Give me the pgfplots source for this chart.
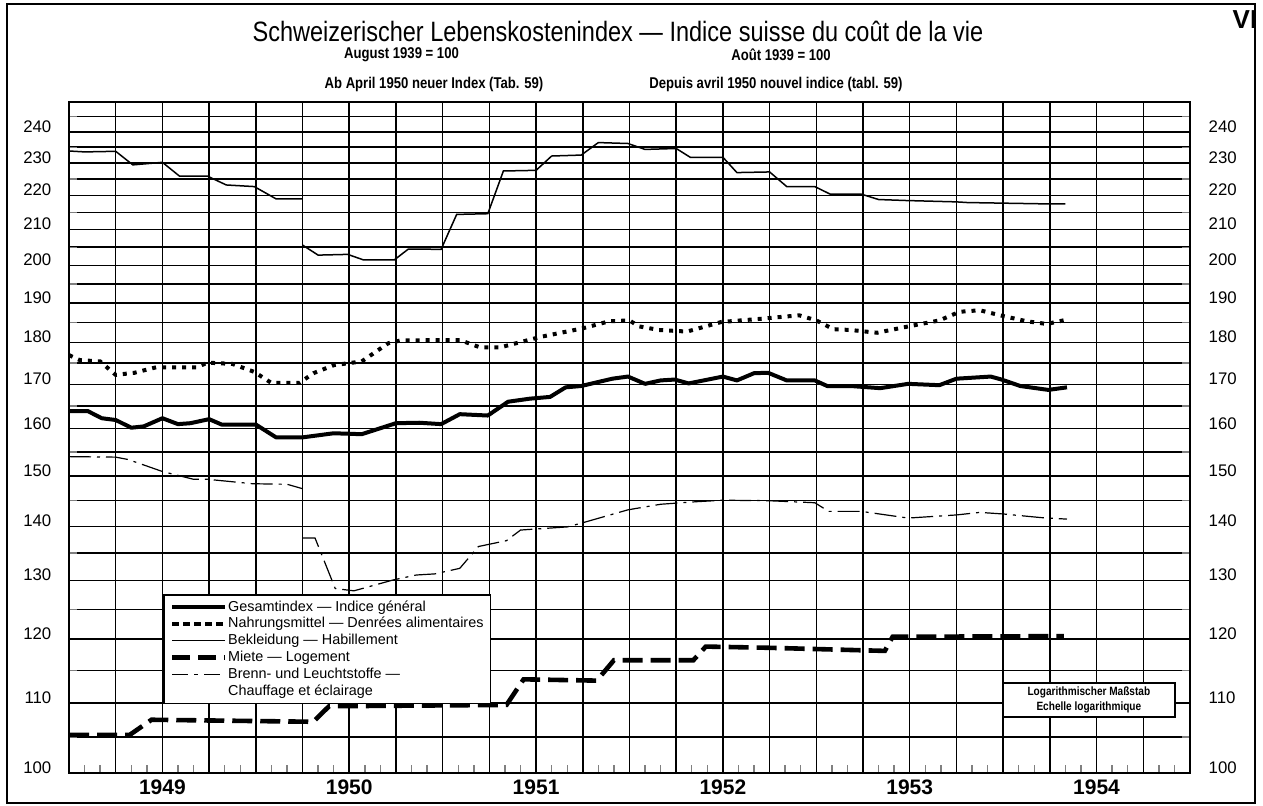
\documentclass[border=0pt]{standalone}
\usepackage{fontspec}
\setmainfont{Liberation Sans}
\newfontfamily\condfont[FakeStretch=0.84]{Liberation Sans}
\usepackage{pgfplots}
\pgfplotsset{compat=1.18}

\begin{document}
\begin{tikzpicture}
\path[use as bounding box] (0,0) rectangle (631.5pt,402.5pt);
\draw[line width=1pt] (3.5pt,1pt) rectangle (627.5pt,400.5pt);
\node[font=\condfont\fontsize{14}{16}\selectfont] at (309pt,387pt) {Schweizerischer Lebenskostenindex — Indice suisse du coût de la vie};
\node[font=\bfseries\fontsize{13}{15}\selectfont] at (622.5pt,392.5pt) {VI};
\node[font=\condfont\bfseries\fontsize{7.8}{9}\selectfont] at (200.75pt,375pt) {August 1939 = 100};
\node[font=\condfont\bfseries\fontsize{7.8}{9}\selectfont] at (390.5pt,375pt) {Août 1939 = 100};
\node[font=\condfont\bfseries\fontsize{7.8}{9}\selectfont] at (217pt,360.5pt) {Ab April 1950 neuer Index (Tab. 59)};
\node[font=\condfont\bfseries\fontsize{7.8}{9}\selectfont] at (388pt,360.5pt) {Depuis avril 1950 nouvel indice (tabl. 59)};

\begin{axis}[
  at={(34.5pt,16.15pt)}, anchor=south west,
  scale only axis, width=560.5pt, height=335.35pt,
  xmin=0, xmax=72, ymode=log, ymin=100, ymax=250,
  axis line style={line width=1.1pt},
  xtick={3,6,...,69},
  xticklabels={,1949,,,,1950,,,,1951,,,,1952,,,,1953,,,,1954,},
  minor xtick={1,2,4,5,7,8,10,11,13,14,16,17,19,20,22,23,25,26,28,29,31,32,34,35,37,38,40,41,43,44,46,47,49,50,52,53,55,56,58,59,61,62,64,65,67,68,70,71},
  xtick pos=bottom,
  extra x ticks={12,24,36,48,60},
  extra x tick labels={},
  extra x tick style={grid style={black, line width=1.3pt}},
  ytick={100,110,120,130,140,150,160,170,180,190,200,210,220,230,240},
  yticklabels={100,110,120,130,140,150,160,170,180,190,200,210,220,230,240},
  minor ytick={105,115,125,135,145,155,165,175,185,195,205,215,225,235,245},
  xmajorgrids, ymajorgrids, yminorgrids,
  major grid style={black, line width=0.75pt},
  minor grid style={black, line width=0.75pt},
  major tick length=0pt, minor tick length=4pt,
  minor tick style={line width=0.7pt},
  xticklabel style={font=\bfseries\fontsize{10.5}{12}\selectfont},
  yticklabel style={font=\fontsize{8.4}{10}\selectfont, xshift=-5.3pt, yshift=2.7pt},
  legend style={draw=black, line width=0.8pt, at={(0.0839,0.2664)}, anchor=north west,
    font=\fontsize{7.2}{8}\selectfont, inner xsep=3pt, inner ysep=2pt,
    nodes={inner xsep=0.5pt, inner ysep=0.6pt, text height=5.6pt, text depth=1.6pt}},
  legend cell align=left,
  legend image code/.code={\draw[#1] (0pt,0pt) -- (26.5pt,0pt);},
]
% Gesamtindex
\addplot[forget plot, line width=2pt, line join=round] coordinates {
(0,163.9) (1.2,163.9) (2.1,162.3) (3,161.9) (4,160.2) (4.8,160.5) (6,162.3) (7,161.0) (7.8,161.2) (9,162.1) (9.8,160.9) (12,160.9) (13.3,158.1) (15,158.1) (17,159.0) (18.8,158.8) (21,161.2) (22.5,161.3) (23.9,161.0) (25.1,163.2) (26.9,162.9) (28.2,166.0) (29.6,166.7) (30.9,167.1) (31.9,169.3) (32.9,169.6) (34.9,171.3) (35.9,171.8) (37.0,170.1) (38.0,170.9) (38.9,171.1) (39.8,170.2) (42.0,171.8) (42.9,170.9) (44.0,172.6) (44.9,172.7) (46.1,170.9) (47.9,170.9) (48.7,169.6) (50.2,169.6) (52.1,169.1) (53.9,170.1) (55.9,169.8) (57.0,171.3) (59.2,171.8) (59.9,171.1) (61.1,169.6) (62.9,168.7) (64.1,169.3)};
% Nahrungsmittel
\addplot[forget plot, line width=2pt, dash pattern=on 2pt off 3pt] coordinates {
(0,176.9) (0.7,175.7) (2.0,175.4) (3.0,172.2) (4.2,172.7) (5.6,174.0) (8.2,174.0) (8.9,175.1) (10.5,174.8) (11.9,172.9) (13.0,170.3) (14.8,170.3) (15.7,172.6) (17.0,174.5) (18.8,175.4) (20.5,179.8) (21.3,180.5) (25.1,180.6) (26.4,178.8) (27.7,178.8) (30.3,181.4) (33.0,183.5) (34.7,185.3) (36.0,185.5) (36.6,184.0) (37.9,183.1) (39.7,182.7) (41.9,185.1) (44.4,185.9) (46.9,186.8) (48.0,185.5) (49.1,183.3) (50.2,183.1) (51.9,182.4) (53.8,183.9) (55.9,185.5) (57.2,187.7) (58.5,188.1) (59.8,186.8) (61.5,185.3) (62.8,184.6) (64.2,185.8)};
% Bekleidung
\addplot[forget plot, line width=0.75pt] coordinates {
(0,233.8) (1,233.5) (3,233.7) (4.1,229.4) (6,230.2) (7.1,225.9) (8.9,225.9) (10.1,223.2) (11.9,222.7) (13.3,219.0) (15,219.0)};
\addplot[forget plot, line width=0.75pt] coordinates {
(15,205.6) (16.0,202.8) (17.9,203.0) (18.9,201.5) (20.9,201.5) (21.8,204.5) (23.9,204.4) (24.9,214.4) (26.9,214.6) (27.9,227.5) (30.0,227.7) (31.0,232.2) (32.9,232.5) (34.0,236.5) (35.9,236.2) (37.0,234.3) (39.0,234.6) (39.9,231.8) (42.0,231.8) (42.9,227.0) (45.0,227.2) (46.1,222.7) (47.9,222.7) (48.9,220.4) (50.9,220.4) (52.0,218.8) (53.8,218.5) (57.0,218.1) (57.7,217.9) (62.8,217.5) (64.0,217.5)};
% Miete
\addplot[forget plot, line width=2.3pt, dash pattern=on 10pt off 4pt] coordinates {
(0,105.3) (3.9,105.3) (5.3,107.5) (15.7,107.2) (16.7,109.5) (28.1,109.7) (29.2,113.6) (33.9,113.4) (35.0,116.6) (40.1,116.6) (40.9,118.8) (45,118.6) (52.4,118.1) (52.9,120.4) (63.9,120.5)};
% Brenn- und Leuchtstoffe
\addplot[forget plot, line width=0.6pt, dash pattern=on 11pt off 3pt on 1.5pt off 3pt] coordinates {
(0,154.0) (3.0,153.9) (3.8,153.4) (6.0,150.9) (8.0,149.3) (8.9,149.3) (11.8,148.4) (14.0,148.3) (15,147.4)};
\addplot[forget plot, line width=0.6pt, dash pattern=on 11pt off 3pt on 1.5pt off 3pt] coordinates {
(15,137.8) (15.8,137.8) (16.2,134.9) (17.1,128.6) (18.3,128.2) (20.8,130.1) (22.3,131.0) (23.5,131.2) (25.1,132.2) (26.3,136.2) (28.1,137.3) (29.0,139.3) (32.0,139.9) (33.0,140.7) (35.9,143.2) (38.0,144.3) (40.3,144.8) (42.0,145.1) (44.9,145.0) (47.9,144.6) (48.8,142.9) (50.9,142.9) (53.9,141.6) (57.0,142.2) (58.5,142.7) (60.0,142.4) (62.4,141.7) (64.1,141.4)};

\addlegendimage{line width=2pt}
\addlegendentry{Gesamtindex — Indice général}
\addlegendimage{line width=2pt, dash pattern=on 3.5pt off 2pt}
\addlegendentry{Nahrungsmittel — Denrées alimentaires}
\addlegendimage{line width=0.7pt}
\addlegendentry{Bekleidung — Habillement}
\addlegendimage{line width=2.2pt, dash pattern=on 9pt off 4pt}
\addlegendentry{Miete — Logement}
\addlegendimage{line width=0.6pt, dash pattern=on 8pt off 3pt on 2pt off 3pt}
\addlegendentry{Brenn- und Leuchtstoffe —}
\addlegendimage{empty legend}
\addlegendentry{Chauffage et éclairage}

\node[draw, line width=0.8pt, fill=white, minimum width=86pt, minimum height=17pt, align=center, inner sep=1pt,
  font=\condfont\bfseries\fontsize{6}{7.5}\selectfont] at (rel axis cs:0.9098,0.1084) {Logarithmischer Maßstab\\Echelle logarithmique};
\end{axis}

\begin{axis}[
  at={(34.5pt,16.15pt)}, anchor=south west,
  scale only axis, width=560.5pt, height=335.35pt,
  xmin=0, xmax=72, ymode=log, ymin=100, ymax=250,
  axis line style={draw=none},
  xtick=\empty,
  ytick={100,110,120,130,140,150,160,170,180,190,200,210,220,230,240},
  yticklabels={100,110,120,130,140,150,160,170,180,190,200,210,220,230,240},
  yticklabel pos=right,
  tick style={draw=none},
  yticklabel style={font=\fontsize{8.4}{10}\selectfont, xshift=5.8pt, yshift=2.7pt},
]
\addplot[draw=none, forget plot] coordinates {(0,150)};
\end{axis}
\end{tikzpicture}
\end{document}
